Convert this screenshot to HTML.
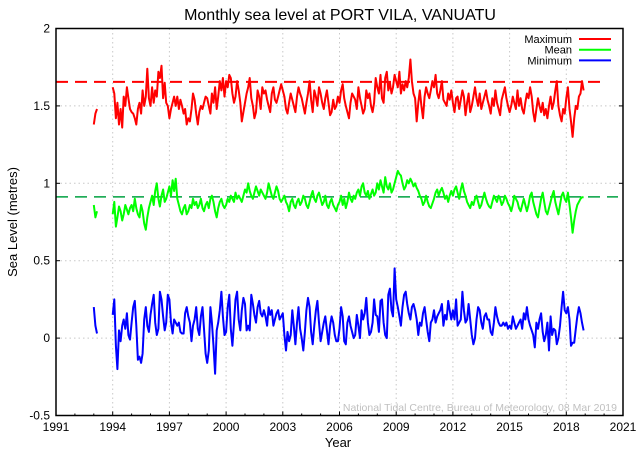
<!DOCTYPE html>
<html><head><meta charset="utf-8"><style>
body{margin:0;background:#fff}
svg{display:block;font-family:"Liberation Sans",sans-serif}
</style></head><body>
<svg id="chart" width="640" height="452"></svg>
<script>
const xTicks=[1991,1994,1997,2000,2003,2006,2009,2012,2015,2018,2021];
const yTicks=[-0.5,0,0.5,1,1.5,2];
const yTickLabels=["-0.5","0","0.5","1","1.5","2"];
const startYear=1994;
const earlyYears=[1993,1993.083,1993.167];
const earlyMax=[1.38,1.45,1.48];
const earlyMean=[0.86,0.78,0.82];
const earlyMin=[0.20,0.08,0.03];
const maxVals=[
1.62,1.58,1.42,1.52,1.38,1.48,1.36,1.56,1.50,1.62,1.55,1.48,
1.46,1.45,1.42,1.38,1.48,1.52,1.45,1.60,1.50,1.56,1.74,1.55,
1.50,1.62,1.52,1.60,1.56,1.72,1.68,1.76,1.55,1.65,1.52,1.50,
1.42,1.48,1.52,1.56,1.50,1.56,1.48,1.54,1.50,1.45,1.48,1.38,
1.42,1.40,1.48,1.58,1.54,1.45,1.38,1.46,1.50,1.48,1.52,1.56,
1.55,1.50,1.45,1.58,1.52,1.62,1.48,1.56,1.66,1.60,1.68,1.56,
1.66,1.62,1.70,1.68,1.58,1.52,1.56,1.66,1.60,1.52,1.40,1.46,
1.52,1.58,1.62,1.68,1.55,1.50,1.42,1.46,1.60,1.56,1.48,1.62,
1.58,1.60,1.54,1.50,1.46,1.58,1.62,1.54,1.52,1.56,1.60,1.64,
1.60,1.56,1.48,1.45,1.52,1.58,1.54,1.50,1.46,1.56,1.62,1.58,
1.55,1.50,1.45,1.52,1.58,1.66,1.54,1.46,1.60,1.56,1.50,1.62,
1.58,1.52,1.48,1.55,1.60,1.52,1.44,1.46,1.54,1.48,1.50,1.56,
1.52,1.60,1.64,1.55,1.50,1.46,1.42,1.52,1.58,1.56,1.54,1.48,
1.62,1.55,1.50,1.45,1.48,1.60,1.55,1.58,1.50,1.46,1.52,1.68,
1.62,1.58,1.70,1.55,1.52,1.68,1.72,1.60,1.65,1.58,1.62,1.70,
1.66,1.62,1.72,1.58,1.64,1.60,1.66,1.62,1.68,1.80,1.66,1.58,
1.55,1.40,1.52,1.60,1.50,1.42,1.56,1.62,1.58,1.55,1.60,1.66,
1.62,1.70,1.58,1.55,1.60,1.66,1.54,1.52,1.50,1.58,1.54,1.60,
1.52,1.46,1.55,1.56,1.48,1.54,1.60,1.56,1.44,1.52,1.58,1.46,
1.50,1.56,1.62,1.55,1.50,1.58,1.48,1.52,1.56,1.60,1.54,1.50,
1.45,1.55,1.50,1.60,1.52,1.48,1.44,1.54,1.58,1.62,1.55,1.50,
1.46,1.50,1.56,1.52,1.48,1.60,1.50,1.55,1.48,1.45,1.52,1.58,
1.55,1.62,1.56,1.46,1.40,1.48,1.55,1.50,1.46,1.52,1.44,1.48,
1.42,1.50,1.56,1.48,1.52,1.60,1.66,1.50,1.44,1.40,1.48,1.45,
1.55,1.62,1.48,1.40,1.30,1.42,1.50,1.48,1.56,1.58,1.66,1.60];
const meanVals=[
.80,.88,.72,.78,.85,.82,.76,.80,.86,.83,.80,.84,
.86,.82,.90,.84,.80,.78,.86,.82,.74,.70,.78,.84,
.88,.92,.86,.95,1.0,.90,.85,.92,.96,.88,.90,.94,
.98,.92,1.02,.95,1.03,.90,.86,.82,.80,.84,.86,.80,
.82,.86,.84,.90,.86,.88,.84,.86,.90,.84,.82,.86,
.88,.84,.90,.92,.88,.82,.78,.84,.88,.90,.86,.84,
.86,.90,.88,.92,.90,.88,.94,.90,.92,.90,.88,.92,
.96,.94,1.0,.95,.92,.90,.94,.98,.95,.92,.96,.94,
.92,.90,.94,1.0,.96,.92,.90,.94,.98,.95,.90,.88,
.90,.92,.88,.86,.82,.88,.90,.86,.84,.88,.90,.86,
.88,.92,.90,.86,.84,.88,.92,.95,.90,.88,.92,.94,
.90,.86,.88,.92,.86,.84,.88,.90,.86,.84,.82,.86,
.88,.92,.86,.90,.84,.88,.94,.90,.88,.92,.90,.94,
.96,.92,.98,1.0,.94,.92,.95,.90,.93,.96,.92,.94,
1.0,.96,1.02,.98,.94,1.04,.98,.96,1.0,.94,.96,1.0,
1.04,1.08,1.06,1.05,1.0,.96,.98,1.02,1.0,1.03,1.01,.98,
1.0,.97,.95,.92,.90,.86,.88,.92,.88,.85,.84,.87,
.90,.94,.96,.92,.95,.97,.94,.90,.92,.88,.92,.95,
.92,.96,.98,.94,.90,.96,1.0,.95,.92,.88,.86,.84,
.88,.86,.90,.92,.88,.84,.86,.90,.94,.90,.87,.85,
.84,.88,.92,.90,.88,.92,.90,.86,.88,.92,.90,.87,
.85,.82,.86,.92,.90,.88,.84,.82,.86,.90,.86,.82,
.86,.92,.94,.88,.84,.80,.78,.84,.90,.94,.88,.82,
.80,.84,.88,.92,.95,.88,.84,.80,.86,.92,.94,.90,
.88,.94,.86,.78,.68,.76,.82,.86,.88,.90,.91,.91];
const minVals=[
0.15,0.25,-0.05,-0.20,0.05,-0.02,0.08,0.12,0.06,0.16,0.02,-0.01,
0.10,0.20,0.24,0.08,-0.14,-0.12,-0.16,-0.10,0.12,0.20,0.08,0.04,
0.15,0.22,0.28,0.10,0.02,0.06,0.30,0.25,0.14,0.05,0.10,0.28,
0.25,0.10,0.03,0.12,0.10,0.08,0.10,0.04,0.03,0.03,0.16,0.20,
0.14,0.10,-0.02,0.08,0.12,0.20,0.06,0.02,0.14,0.20,0.06,-0.10,
-0.16,-0.08,0.20,0.10,-0.05,-0.23,0.05,0.10,0.18,0.30,0.14,0.02,
0.04,0.20,0.28,0.06,-0.05,0.10,0.25,0.30,0.12,0.05,0.18,0.26,
0.22,0.05,0.08,0.05,0.28,0.22,0.15,0.10,0.20,0.24,0.16,0.14,
0.18,0.14,0.08,0.20,0.15,0.18,0.08,0.12,0.16,0.18,0.12,0.14,
0.16,0.02,-0.08,0.04,-0.02,0.02,0.18,0.08,-0.04,0.10,0.20,0.06,
0.00,-0.08,0.04,0.18,0.26,0.20,0.04,-0.04,0.08,0.18,0.24,0.10,
-0.02,0.04,0.10,0.14,0.05,-0.04,0.08,0.14,0.10,0.02,-0.02,-0.02,
0.06,0.20,0.14,-0.02,-0.04,0.10,0.14,0.08,0.04,0.00,0.02,0.15,
0.08,0.00,0.18,0.12,0.16,0.26,0.10,0.02,0.04,0.10,0.25,0.15,
0.14,0.04,0.24,0.25,0.10,0.02,0.00,0.28,0.32,0.18,0.14,0.45,
0.25,0.20,0.14,0.08,0.20,0.28,0.30,0.22,0.16,0.12,0.20,0.22,
0.18,0.12,0.02,0.10,0.08,0.16,0.20,0.12,0.04,-0.02,0.10,0.12,
0.18,0.10,0.14,0.16,0.18,0.22,0.08,0.15,0.12,0.24,0.18,0.12,
0.18,0.12,0.25,0.08,0.10,0.12,0.30,0.18,0.10,0.12,0.22,0.12,
0.02,-0.04,0.00,0.12,0.20,0.18,0.10,0.06,0.14,0.16,0.12,0.12,
0.04,0.02,0.10,0.20,0.14,0.10,0.08,0.08,0.10,0.08,0.10,0.06,
0.08,0.06,0.14,0.10,0.06,0.08,0.10,0.12,0.06,0.16,0.12,0.20,
0.12,0.08,0.05,0.02,-0.06,0.10,0.06,0.12,0.16,0.04,-0.02,0.02,
0.10,-0.08,0.14,0.02,0.06,0.05,-0.04,0.00,0.08,0.20,0.30,0.18,
0.16,0.20,0.12,-0.05,-0.03,-0.03,0.06,0.14,0.20,0.16,0.10,0.05];
const maxAvg=1.655, meanAvg=0.912;

const L=56,R=623,T=28.5,B=415.5;
const x=v=>L+(v-1991)/30*(R-L);
const y=v=>B-(v+0.5)/2.5*(B-T);
const svg=document.getElementById('chart');
const NS='http://www.w3.org/2000/svg';
function mk(tag,attrs,parent){const e=document.createElementNS(NS,tag);for(const k in attrs)e.setAttribute(k,attrs[k]);(parent||svg).appendChild(e);return e;}

// grid
const grid=mk('g',{});


xTicks.slice(1,-1).forEach(t=>mk('line',{x1:x(t),x2:x(t),y1:T,y2:B,stroke:'#c8c8c8','stroke-dasharray':'1.5,3'},grid));
yTicks.slice(1,-1).forEach(t=>mk('line',{x1:L,x2:R,y1:y(t),y2:y(t),stroke:'#c8c8c8','stroke-dasharray':'1.5,3'},grid));

// ticks + labels
const xl=mk('g',{'font-size':'12',fill:'#000','text-anchor':'middle'});


xTicks.forEach(t=>{mk('text',{x:x(t),y:431},xl).textContent=t;mk('line',{x1:x(t),x2:x(t),y1:B,y2:B-4,stroke:'#000'},svg);});
for(let yr=1992;yr<2021;yr++){if((yr-1991)%3)mk('line',{x1:x(yr),x2:x(yr),y1:B,y2:B-2,stroke:'#000'});}
const yl=mk('g',{'font-size':'12',fill:'#000','text-anchor':'end'});


yTicks.forEach((t,i)=>{mk('text',{x:50,y:y(t)+4},yl).textContent=yTickLabels[i];mk('line',{x1:L,x2:L+4,y1:y(t),y2:y(t),stroke:'#000'});mk('line',{x1:R,x2:R-4,y1:y(t),y2:y(t),stroke:'#000'});});

// dashed averages
const dm=mk('line',{x1:L,x2:x(2019.8),y1:y(maxAvg),y2:y(maxAvg),stroke:'#ff0000','stroke-width':2,'stroke-dasharray':'12,7'});


const dn=mk('line',{x1:L,x2:x(2021)-5,y1:y(meanAvg),y2:y(meanAvg),stroke:'#00a040','stroke-width':1.5,'stroke-dasharray':'12,7'});



function series(early,vals,color,name){
  const p1=early.map((v,i)=>x(earlyYears[i]).toFixed(1)+','+y(v).toFixed(1)).join(' ');
  const p2=vals.map((v,i)=>x(startYear+i/12).toFixed(1)+','+y(v).toFixed(1)).join(' ');
  const g=mk('g',{fill:'none',stroke:color,'stroke-width':2,'stroke-linejoin':'round'});
  
  
  mk('polyline',{points:p1},g);mk('polyline',{points:p2},g);
}
series(earlyMax,maxVals,'#ff0000','maximum-series');
series(earlyMean,meanVals,'#00ff00','mean-series');
series(earlyMin,minVals,'#0000ff','minimum-series');

// frame
const fr=mk('rect',{x:L,y:T,width:R-L,height:B-T,fill:'none',stroke:'#000','stroke-width':1.5});



// legend
const leg=mk('g',{'font-size':'11','text-anchor':'end'});


[['Maximum','#ff0000'],['Mean','#00ff00'],['Minimum','#0000ff']].forEach((d,i)=>{
  const yy=39+i*10.7;
  mk('text',{x:572,y:yy+4},leg).textContent=d[0];
  mk('line',{x1:579,x2:611,y1:yy,y2:yy,stroke:d[1],'stroke-width':2},leg);
});

// texts
const tt=mk('text',{x:340,y:20,'font-size':'16','text-anchor':'middle'});
tt.textContent='Monthly sea level at PORT VILA, VANUATU';


const xt=mk('text',{x:338,y:447,'font-size':'13','text-anchor':'middle'});
xt.textContent='Year';


const yt=mk('text',{x:17,y:222,'font-size':'13','text-anchor':'middle',transform:'rotate(-90 17 222)'});
yt.textContent='Sea Level (metres)';


const wm=mk('text',{x:617,y:411,'font-size':'10.5','text-anchor':'end',fill:'#c0c0c0'});
wm.textContent='National Tidal Centre, Bureau of Meteorology, 08 Mar 2019';


</script>
</body></html>
